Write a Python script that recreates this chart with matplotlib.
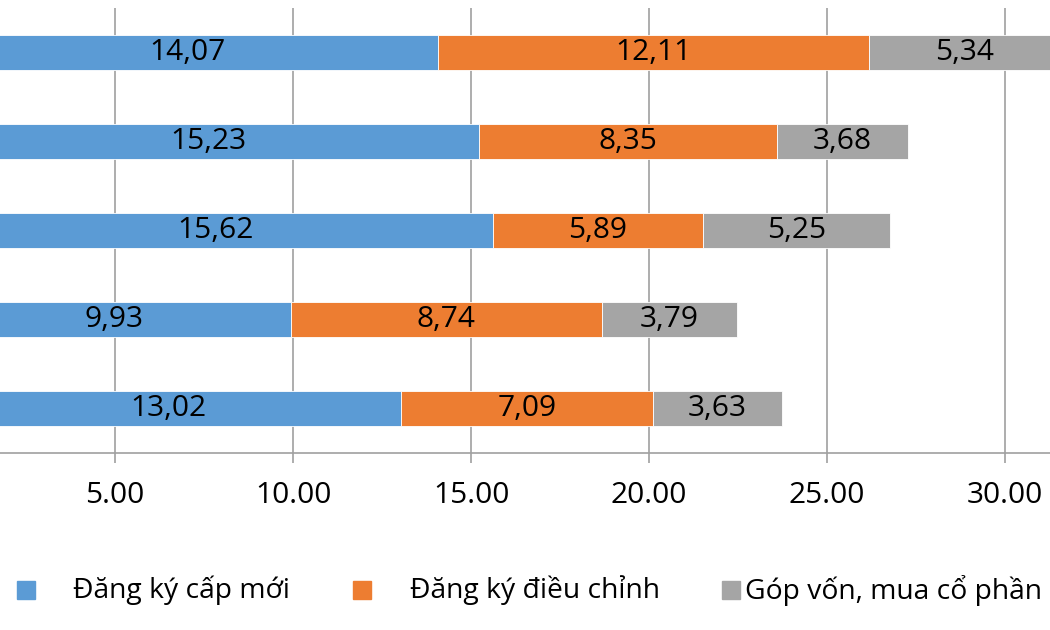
import matplotlib
matplotlib.use("Agg")
import matplotlib.pyplot as plt
from matplotlib.patches import Rectangle
import numpy as np

plt.rcParams['font.family'] = ['Open Sans', 'DejaVu Sans']

# rows listed top to bottom
categories = ["Hàng 1", "Hàng 2", "Hàng 3", "Hàng 4", "Hàng 5"]
series_names = ["Đăng ký cấp mới", "Đăng ký điều chỉnh", "Góp vốn, mua cổ phần"]
new_reg = [14.07, 15.23, 15.62, 9.93, 13.02]
adjust = [12.11, 8.35, 5.89, 8.74, 7.09]
capital = [5.34, 3.68, 5.25, 3.79, 3.63]
colors = ["#5B9BD5", "#ED7D31", "#A5A5A5"]
xticks = [5, 10, 15, 20, 25, 30]

fig = plt.figure(figsize=(10.5, 6.3), dpi=100)
ax = fig.add_axes([0, 1 - 453 / 630, 1, 445 / 630])

y = np.arange(len(categories))
left = np.zeros(len(categories))
for vals, col in zip([new_reg, adjust, capital], colors):
    vals = np.array(vals)
    ax.barh(y, vals, left=left, height=0.39, color=col, edgecolor="white",
            linewidth=0.6, zorder=3)
    for yi, l, v in zip(y, left, vals):
        ax.text(l + v / 2, yi, f"{v:.2f}".replace(".", ","), ha="center",
                va="center", fontsize=21.5, color="black", zorder=4)
    left = left + vals

ax.set_ylim(len(categories) - 0.5, -0.5)
ax.set_xlim(1.77, 31.26)
ax.set_xticks(xticks)
ax.set_xticklabels([f"{t:.2f}" for t in xticks], fontsize=21.5)
ax.set_yticks([])
ax.grid(axis="x", color="#A0A0A0", linewidth=1.2, zorder=0)
for s in ["top", "right", "left"]:
    ax.spines[s].set_visible(False)
ax.spines["bottom"].set_color("#A0A0A0")
ax.spines["bottom"].set_linewidth(1.2)
ax.tick_params(axis="x", length=7, width=1.2, color="#A0A0A0", pad=13)

# legend (manual, matching layout)
sq_x = [17, 353, 722]
tx_x = [73, 410, 745]
for name, col, sx, tx in zip(series_names, colors, sq_x, tx_x):
    fig.patches.append(Rectangle((sx / 1050, 1 - 599 / 630), 18 / 1050, 18 / 630,
                                 transform=fig.transFigure, color=col))
    fig.text(tx / 1050, 1 - 590 / 630, name, fontsize=20.3, va="center", ha="left")

fig.savefig("out.png", dpi=100)
